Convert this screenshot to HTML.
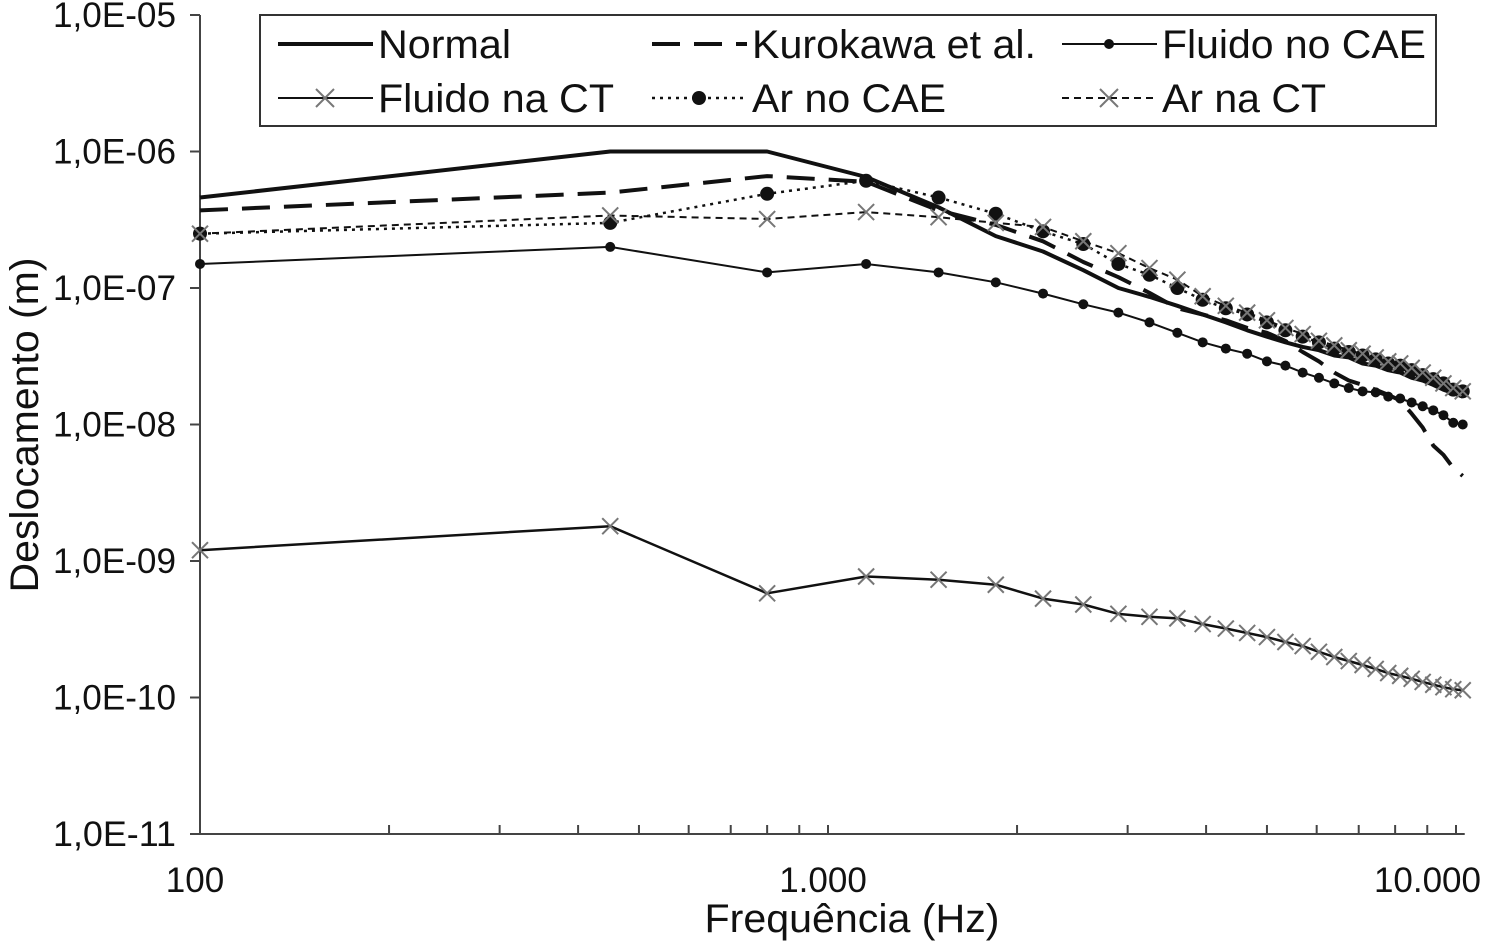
<!DOCTYPE html>
<html><head><meta charset="utf-8"><style>
body{margin:0;background:#fff;}
svg{display:block;font-family:"Liberation Sans",Arial,sans-serif;}
</style></head><body>
<svg id="chart" width="1486" height="944" viewBox="0 0 1486 944">
<g id="axes"></g>
<g id="series"></g>
<g id="legend"></g>
<text x="852" y="932" font-size="40" text-anchor="middle" fill="#111" textLength="295" lengthAdjust="spacingAndGlyphs">Frequência (Hz)</text>
<text transform="translate(38,425) rotate(-90)" font-size="40" text-anchor="middle" fill="#111" textLength="335" lengthAdjust="spacingAndGlyphs">Deslocamento (m)</text>
</svg>
<script>
const freqs = [100,450,800,1150,1500,1850,2200,2550,2900,3250,3600,3950,4300,4650,5000,5350,5700,6050,6400,6750,7100,7450,7800,8150,8500,8850,9200,9550,9900,10250];
const normal = [4.6e-7,1.0e-6,1.0e-6,6.5e-7,3.9e-7,2.4e-7,1.85e-7,1.35e-7,1.0e-7,8.6e-8,7.4e-8,6.4e-8,5.6e-8,4.9e-8,4.4e-8,4.0e-8,3.7e-8,3.5e-8,3.2e-8,3.1e-8,2.8e-8,2.7e-8,2.5e-8,2.4e-8,2.2e-8,2.1e-8,1.95e-8,1.8e-8,1.7e-8,1.6e-8];
const kurokawa = [3.7e-7,5.0e-7,6.6e-7,6.0e-7,3.7e-7,2.9e-7,2.2e-7,1.55e-7,1.2e-7,9.2e-8,7.1e-8,6.4e-8,5.8e-8,5.1e-8,4.7e-8,4.1e-8,3.4e-8,2.9e-8,2.4e-8,2.1e-8,1.95e-8,1.8e-8,1.65e-8,1.5e-8,1.2e-8,9.5e-9,7.0e-9,6.0e-9,4.8e-9,4.2e-9];
const fluidoCAE = [1.5e-7,2.0e-7,1.3e-7,1.5e-7,1.3e-7,1.1e-7,9.1e-8,7.6e-8,6.6e-8,5.6e-8,4.7e-8,4.0e-8,3.6e-8,3.3e-8,2.9e-8,2.7e-8,2.4e-8,2.2e-8,2.0e-8,1.85e-8,1.75e-8,1.72e-8,1.6e-8,1.55e-8,1.45e-8,1.36e-8,1.27e-8,1.17e-8,1.03e-8,1.0e-8];
const fluidoCT = [1.2e-9,1.8e-9,5.8e-10,7.7e-10,7.3e-10,6.7e-10,5.3e-10,4.8e-10,4.1e-10,3.9e-10,3.8e-10,3.45e-10,3.2e-10,2.97e-10,2.77e-10,2.55e-10,2.38e-10,2.16e-10,1.98e-10,1.85e-10,1.73e-10,1.62e-10,1.51e-10,1.44e-10,1.37e-10,1.3e-10,1.24e-10,1.19e-10,1.15e-10,1.13e-10];
const arCAE = [2.5e-7,3.0e-7,4.9e-7,6.1e-7,4.6e-7,3.5e-7,2.6e-7,2.1e-7,1.5e-7,1.25e-7,1.0e-7,8.2e-8,7.1e-8,6.4e-8,5.6e-8,4.9e-8,4.4e-8,4.0e-8,3.6e-8,3.4e-8,3.2e-8,3.0e-8,2.8e-8,2.7e-8,2.5e-8,2.3e-8,2.15e-8,2.0e-8,1.8e-8,1.75e-8];
const arCT = [2.5e-7,3.4e-7,3.2e-7,3.6e-7,3.3e-7,3.0e-7,2.8e-7,2.2e-7,1.8e-7,1.4e-7,1.15e-7,8.7e-8,7.4e-8,6.6e-8,5.8e-8,5.1e-8,4.6e-8,4.1e-8,3.8e-8,3.5e-8,3.3e-8,3.1e-8,2.9e-8,2.8e-8,2.6e-8,2.4e-8,2.2e-8,2.0e-8,1.85e-8,1.75e-8];
const yTickLabels = ["1,0E-05","1,0E-06","1,0E-07","1,0E-08","1,0E-09","1,0E-10","1,0E-11"];
const yTickValues = [1e-5,1e-6,1e-7,1e-8,1e-9,1e-10,1e-11];
const xTickLabels = ["100","1.000","10.000"];
const xTickValues = [100,1000,10000];

const NS="http://www.w3.org/2000/svg";
const X0=200, DEC=628, Y0=15, YDEC=136.5;
function sx(f){return X0+DEC*Math.log10(f/100);}
function sy(v){return Y0+YDEC*(-5-Math.log10(v));}
function mk(tag,attrs,parent){const e=document.createElementNS(NS,tag);for(const k in attrs)e.setAttribute(k,attrs[k]);parent.appendChild(e);return e;}
const axes=document.getElementById('axes');
const xEnd=sx(10250)+2;
let a=mk('line',{x1:X0,y1:Y0,x2:X0,y2:sy(1e-11),stroke:'#444','stroke-width':2},axes);


a=mk('line',{x1:X0-2,y1:sy(1e-11),x2:xEnd,y2:sy(1e-11),stroke:'#444','stroke-width':2},axes);


yTickValues.forEach((v,i)=>{
  const y=sy(v);
  let t=mk('line',{x1:X0-10,y1:y,x2:X0,y2:y,stroke:'#444','stroke-width':2},axes);
  
  
  let l=mk('text',{x:X0-24,y:y+12,'font-size':35,'text-anchor':'end',fill:'#111',textLength:123,lengthAdjust:'spacingAndGlyphs'},axes);
  l.textContent=yTickLabels[i];
  
  
});
for(let d=100;d<=10000;d*=10){
  for(let m=1;m<10;m++){
    const f=d*m; if(f>10250)break;
    const x=sx(f);
    let t=mk('line',{x1:x,y1:sy(1e-11),x2:x,y2:sy(1e-11)-9,stroke:'#444','stroke-width':2},axes);
    
    
  }
}
xTickValues.forEach((v,i)=>{
  const last=i===xTickValues.length-1;
  let l=mk('text',{x:last?1481:sx(v)-5,y:892,'font-size':35,'text-anchor':last?'end':'middle',fill:'#111'},axes);
  l.textContent=xTickLabels[i];
  
  
});
const sg=document.getElementById('series');
function cross(g,x,y,r){mk('path',{d:`M${x-r},${y-r}L${x+r},${y+r}M${x-r},${y+r}L${x+r},${y-r}`,stroke:'#777','stroke-width':2,fill:'none'},g);}
const defs=[
 {name:'normal',data:normal,w:4,dash:'',marker:null},
 {name:'kurokawa',data:kurokawa,w:4,dash:'28,14',marker:null},
 {name:'fluido-no-cae',data:fluidoCAE,w:2,dash:'',marker:'sdot'},
 {name:'fluido-na-ct',data:fluidoCT,w:2.5,dash:'',marker:'x'},
 {name:'ar-no-cae',data:arCAE,w:2.5,dash:'3,5',marker:'bdot'},
 {name:'ar-na-ct',data:arCT,w:2,dash:'7,5',marker:'x'}
];
defs.forEach(s=>{
  const g=mk('g',{},sg);
  
  
  const pts=s.data.map((v,i)=>sx(freqs[i]).toFixed(1)+','+sy(v).toFixed(1)).join(' ');
  const attrs={points:pts,fill:'none',stroke:'#111','stroke-width':s.w,'stroke-linejoin':'round'};
  if(s.dash)attrs['stroke-dasharray']=s.dash;
  const pl=mk('polyline',attrs,g);
  
  
  if(s.marker){
    s.data.forEach((v,i)=>{
      const x=sx(freqs[i]),y=sy(v);
      if(s.marker==='x')cross(g,x,y,8);
      else mk('circle',{cx:x,cy:y,r:s.marker==='bdot'?7:5,fill:'#111'},g);
    });
  }
});
const lg=document.getElementById('legend');
let box=mk('rect',{x:260,y:15,width:1176,height:111,fill:'#fff',stroke:'#333','stroke-width':2},lg);


const entries=[
 {label:'Normal',x:278,y:44,w:4,dash:'',m:null,tl:133},
 {label:'Kurokawa et al.',x:652,y:44,w:4,dash:'28,14',m:null,tl:284},
 {label:'Fluido no CAE',x:1062,y:44,w:2,dash:'',m:'sdot',tl:264},
 {label:'Fluido na CT',x:278,y:98,w:2,dash:'',m:'x',tl:236},
 {label:'Ar no CAE',x:652,y:98,w:2.5,dash:'3,5',m:'bdot',tl:194},
 {label:'Ar na CT',x:1062,y:98,w:2,dash:'7,5',m:'x',tl:164}
];
entries.forEach(e=>{
  const g=mk('g',{},lg);
  
  
  const at={x1:e.x,y1:e.y,x2:e.x+95,y2:e.y,stroke:'#111','stroke-width':e.w};
  if(e.dash)at['stroke-dasharray']=e.dash;
  mk('line',at,g);
  if(e.m==='x')cross(g,e.x+47,e.y,9);
  else if(e.m)mk('circle',{cx:e.x+47,cy:e.y,r:e.m==='bdot'?7:5,fill:'#111'},g);
  const t=mk('text',{x:e.x+100,y:e.y+14,'font-size':40,fill:'#111',textLength:e.tl,lengthAdjust:'spacingAndGlyphs'},g);
  t.textContent=e.label;
});
</script>
</body></html>
